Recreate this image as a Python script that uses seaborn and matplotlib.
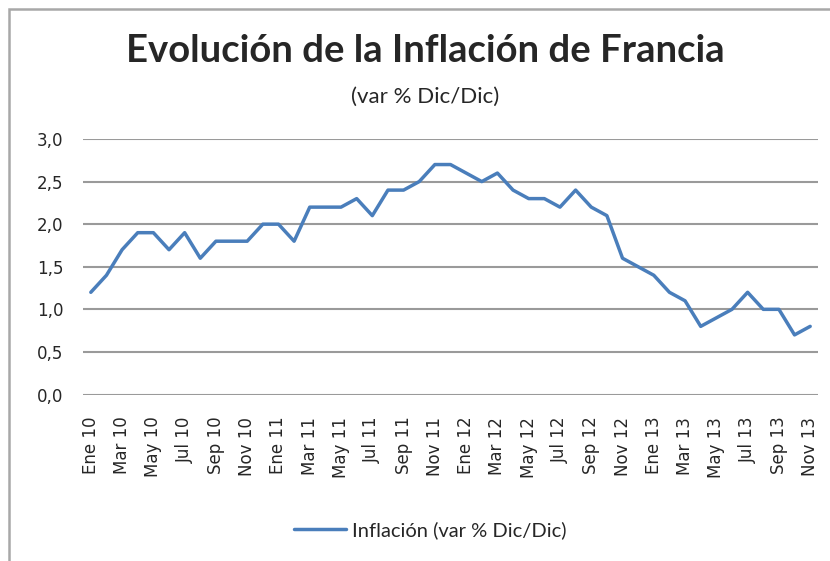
import numpy as np
import pandas as pd
import matplotlib
matplotlib.use('Agg')
import matplotlib.pyplot as plt
import seaborn as sns
from matplotlib.ticker import FuncFormatter, FixedLocator
from matplotlib.patches import Rectangle

meses = ["Ene", "Feb", "Mar", "Abr", "May", "Jun", "Jul", "Ago", "Sep", "Oct", "Nov", "Dic"]
anios = ["10", "11", "12", "13"]
periodos = [m + " " + a for a in anios for m in meses][:47]

inflacion = [1.2, 1.4, 1.7, 1.9, 1.9, 1.7, 1.9, 1.6, 1.8, 1.8, 1.8, 2.0,
             2.0, 1.8, 2.2, 2.2, 2.2, 2.3, 2.1, 2.4, 2.4, 2.5, 2.7, 2.7,
             2.6, 2.5, 2.6, 2.4, 2.3, 2.3, 2.2, 2.4, 2.2, 2.1, 1.6, 1.5,
             1.4, 1.2, 1.1, 0.8, 0.9, 1.0, 1.2, 1.0, 1.0, 0.7, 0.8]

df = pd.DataFrame({"periodo": periodos, "inflacion": inflacion})
df["pos"] = np.arange(len(df))

sns.set_style("white")
plt.rcParams['font.family'] = ['DejaVu Sans']
humanist = ['Lato', 'DejaVu Sans']

fig = plt.figure(figsize=(8.3, 5.61), dpi=100)
W, H = 830, 561
ax = fig.add_axes([83 / W, 1 - 394.5 / H, (818 - 83) / W, (394.5 - 139) / H])

sns.lineplot(data=df, x="pos", y="inflacion", ax=ax, color="#4a7ebb",
             linewidth=2.5, label="Inflación (var % Dic/Dic)")

ax.set_xlim(-0.5, len(df) - 0.5)
ax.set_ylim(0, 3.0)
ax.set_yticks(np.arange(0, 3.01, 0.5))
ax.yaxis.set_major_formatter(FuncFormatter(lambda v, p: f"{v:.1f}".replace(".", ",")))
ax.xaxis.set_major_locator(FixedLocator(df["pos"][::2]))
ax.set_xticklabels(df["periodo"][::2], rotation=90, fontsize=12)
ax.tick_params(axis="y", labelsize=12, pad=14, length=0)
ax.tick_params(axis="x", pad=16, length=0)
ax.grid(axis="y", color="#9a9a9a", linewidth=1.5)
ax.grid(axis="x", visible=False)
for s in ax.spines.values():
    s.set_visible(False)
ax.set_xlabel("")
ax.set_ylabel("")

ax.legend(loc="center", bbox_to_anchor=(430 / W, 1 - 530 / H), bbox_transform=fig.transFigure,
          frameon=False, handlelength=2.6, handletextpad=0.3, prop={"family": humanist, "size": 14.5})

fig.text(425 / W, 1 - 51 / H, "Evolución de la Inflación de Francia", ha="center", va="center",
         fontsize=27.5, fontweight="bold", family=humanist)
fig.text(425 / W, 1 - 97 / H, "(var % Dic/Dic)", ha="center", va="center",
         fontsize=16, family=humanist)

fig.patches.append(Rectangle((9 / W, -0.1), 1.2, 1 - 9 / H + 0.1, transform=fig.transFigure,
                             fill=False, edgecolor="#a8a8a8", linewidth=1.8))

fig.savefig("out.png", dpi=100)
